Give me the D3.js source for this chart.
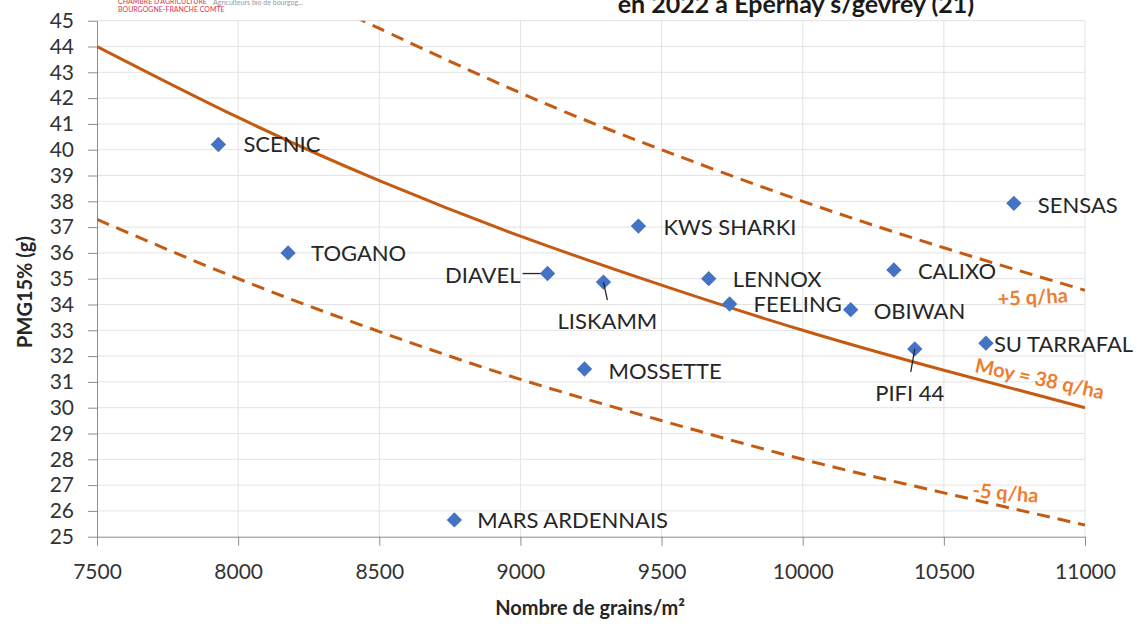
<!DOCTYPE html>
<html lang="fr">
  <head>
    <meta charset="utf-8">
    <title>PMG vs nombre de grains</title>
    <script src="https://d3js.org/d3.v7.min.js"></script>
    <style>
      body { margin: 0; background: #fff; }
      svg text { font-family: Lato, "Open Sans", sans-serif; }
      .grid line { stroke: #e3e3e3; stroke-width: 1; }
      .axis path, .axis line { stroke: #8c8c8c; }
      .axis text { font-size: 21px; fill: #333; }
      .lbl { font-size: 22px; fill: #262626; }
      .curveLbl { font-size: 20px; fill: #ed7d31; font-weight: bold; }
    </style>
  </head>
  <body>
    <div id="main"></div>
    <script>
      // varietes
      var varieties = ["SCENIC", "TOGANO", "DIAVEL", "LISKAMM", "KWS SHARKI", "LENNOX", "FEELING",
        "OBIWAN", "CALIXO", "SENSAS", "SU TARRAFAL", "PIFI 44", "MOSSETTE", "MARS ARDENNAIS"];
      var grains = [7930, 8177, 9096, 9294, 9418, 9667, 9741, 10170, 10323, 10748, 10649, 10397, 9227, 8766];
      var pmg = [40.2, 36.0, 35.2, 34.87, 37.04, 35.0, 34.02, 33.8, 35.34, 37.92, 32.5, 32.28, 31.5, 25.65];

      // courbes iso-rendement
      var curveX = [7500, 8000, 8500, 9000, 9500, 10000, 10500, 11000];
      var moyCurve = [44, 41.25, 38.8, 36.65, 34.75, 33, 31.45, 30];
      var lowCurve = [37.3, 35, 32.95, 31.1, 29.5, 28, 26.7, 25.45];
      var highX = [8444, 8500, 9000, 9500, 10000, 10500, 11000];
      var highCurve = [45, 44.7, 42.2, 40, 38, 36.2, 34.55];

      var xTicks = [7500, 8000, 8500, 9000, 9500, 10000, 10500, 11000];
      var yTicks = d3.range(25, 46);

      var W = 1142, H = 624;
      var mLeft = 97, mRight = 1085, mTop = 20.7, mBottom = 536.7;

      var svg = d3.select("#main").append("svg").attr("width", W).attr("height", H);

      var x = d3.scaleLinear().domain([7500, 11000]).range([mLeft, mRight]);
      var y = d3.scaleLinear().domain([25, 45]).range([mBottom, mTop]);

      // grille
      var grid = svg.append("g").attr("class", "grid");
      grid.selectAll(".h").data(yTicks.slice(1)).enter().append("line")
        .attr("x1", mLeft).attr("x2", mRight)
        .attr("y1", function(d) { return y(d); }).attr("y2", function(d) { return y(d); });
      grid.selectAll(".v").data(xTicks.slice(1)).enter().append("line")
        .attr("y1", mTop).attr("y2", mBottom)
        .attr("x1", function(d) { return x(d); }).attr("x2", function(d) { return x(d); });

      // axes
      svg.append("g").attr("class", "axis")
        .attr("transform", "translate(0," + mBottom + ")")
        .call(d3.axisBottom(x).tickValues(xTicks).tickSize(9).tickSizeOuter(0).tickPadding(18).tickFormat(d3.format("d")));
      svg.append("g").attr("class", "axis")
        .attr("transform", "translate(" + mLeft + ",0)")
        .call(d3.axisLeft(y).tickValues(yTicks).tickSize(9).tickSizeOuter(0).tickPadding(14));

      // courbes
      svg.append("clipPath").attr("id", "plot").append("rect")
        .attr("x", mLeft).attr("y", mTop).attr("width", mRight - mLeft).attr("height", mBottom - mTop);
      var line = d3.line().x(function(d) { return x(d[0]); }).y(function(d) { return y(d[1]); })
        .curve(d3.curveNatural);
      var curves = svg.append("g").attr("clip-path", "url(#plot)");
      curves.append("path").datum(d3.zip(curveX, moyCurve))
        .attr("d", line).attr("fill", "none").attr("stroke", "#c55a11").attr("stroke-width", 3);
      curves.append("path").datum(d3.zip(curveX, lowCurve))
        .attr("d", line).attr("fill", "none").attr("stroke", "#c55a11").attr("stroke-width", 3)
        .attr("stroke-dasharray", "13,8");
      curves.append("path").datum(d3.zip(highX, highCurve))
        .attr("d", line).attr("fill", "none").attr("stroke", "#c55a11").attr("stroke-width", 3)
        .attr("stroke-dasharray", "13,8");

      // libelles des courbes
      svg.append("text").attr("class", "curveLbl")
        .attr("transform", "translate(998,306) rotate(-3)").text("+5 q/ha");
      svg.append("text").attr("class", "curveLbl")
        .attr("transform", "translate(974,372) rotate(12)").text("Moy = 38 q/ha");
      svg.append("text").attr("class", "curveLbl")
        .attr("transform", "translate(972,497) rotate(5)").text("-5 q/ha");

      // points
      var pts = d3.range(varieties.length);
      svg.append("g").selectAll("path").data(pts).enter().append("path")
        .attr("d", d3.symbol().type(d3.symbolDiamond2).size(150))
        .attr("transform", function(i) { return "translate(" + x(grains[i]) + "," + y(pmg[i]) + ")"; })
        .attr("fill", "#4472c4");

      // position des etiquettes (dx, dy, ancre)
      var lblPos = {
        "SCENIC": [25, 0, "start"], "TOGANO": [23, 0, "start"], "DIAVEL": [-27, 2, "end"],
        "LISKAMM": [4, 39, "middle"], "KWS SHARKI": [25, 1, "start"], "LENNOX": [24, 1, "start"],
        "FEELING": [24, 0, "start"], "OBIWAN": [23, 2, "start"], "CALIXO": [24, 1, "start"],
        "SENSAS": [24, 2, "start"], "SU TARRAFAL": [8, 1, "start"], "PIFI 44": [-5, 44, "middle"],
        "MOSSETTE": [24, 2, "start"], "MARS ARDENNAIS": [23, 0, "start"]
      };
      svg.append("g").selectAll("text").data(pts).enter().append("text")
        .attr("class", "lbl")
        .attr("x", function(i) { return x(grains[i]) + lblPos[varieties[i]][0]; })
        .attr("y", function(i) { return y(pmg[i]) + lblPos[varieties[i]][1]; })
        .attr("dy", "0.35em")
        .attr("text-anchor", function(i) { return lblPos[varieties[i]][2]; })
        .text(function(i) { return varieties[i]; });

      // traits de rappel
      var leaders = [["DIAVEL", -25, 0, -7, 0], ["LISKAMM", 0, 0, 4, 18], ["PIFI 44", 0, 0, -4, 23]];
      leaders.forEach(function(l) {
        var i = varieties.indexOf(l[0]);
        svg.append("line")
          .attr("x1", x(grains[i]) + l[1]).attr("y1", y(pmg[i]) + l[2])
          .attr("x2", x(grains[i]) + l[3]).attr("y2", y(pmg[i]) + l[4])
          .attr("stroke", "#262626").attr("stroke-width", 1.3);
      });

      // titres
      svg.append("text").attr("x", 25).attr("y", 292)
        .attr("transform", "rotate(-90,25,292)")
        .attr("text-anchor", "middle").attr("dy", "0.35em")
        .style("font-size", "20px").style("font-weight", "bold").attr("fill", "#262626")
        .text("PMG15% (g)");
      svg.append("text").attr("x", 590).attr("y", 615)
        .attr("text-anchor", "middle")
        .style("font-size", "20px").style("font-weight", "bold").attr("fill", "#262626")
        .text("Nombre de grains/m²");
      svg.append("text").attr("x", 796).attr("y", 13)
        .attr("text-anchor", "middle")
        .style("font-size", "25px").style("font-weight", "bold").attr("fill", "#1a1a1a")
        .text("en 2022 à Epernay s/gevrey (21)");

      // logos
      svg.append("text").attr("x", 118).attr("y", 4).style("font-size", "7px").attr("fill", "#e0334a")
        .text("CHAMBRE D'AGRICULTURE");
      svg.append("text").attr("x", 118).attr("y", 12).style("font-size", "7px").attr("fill", "#e0334a")
        .text("BOURGOGNE-FRANCHE COMTE");
      svg.append("text").attr("x", 213).attr("y", 5).style("font-size", "7px").attr("fill", "#999")
        .text("Agriculteurs bio de bourgog...");
    </script>
  </body>
</html>
